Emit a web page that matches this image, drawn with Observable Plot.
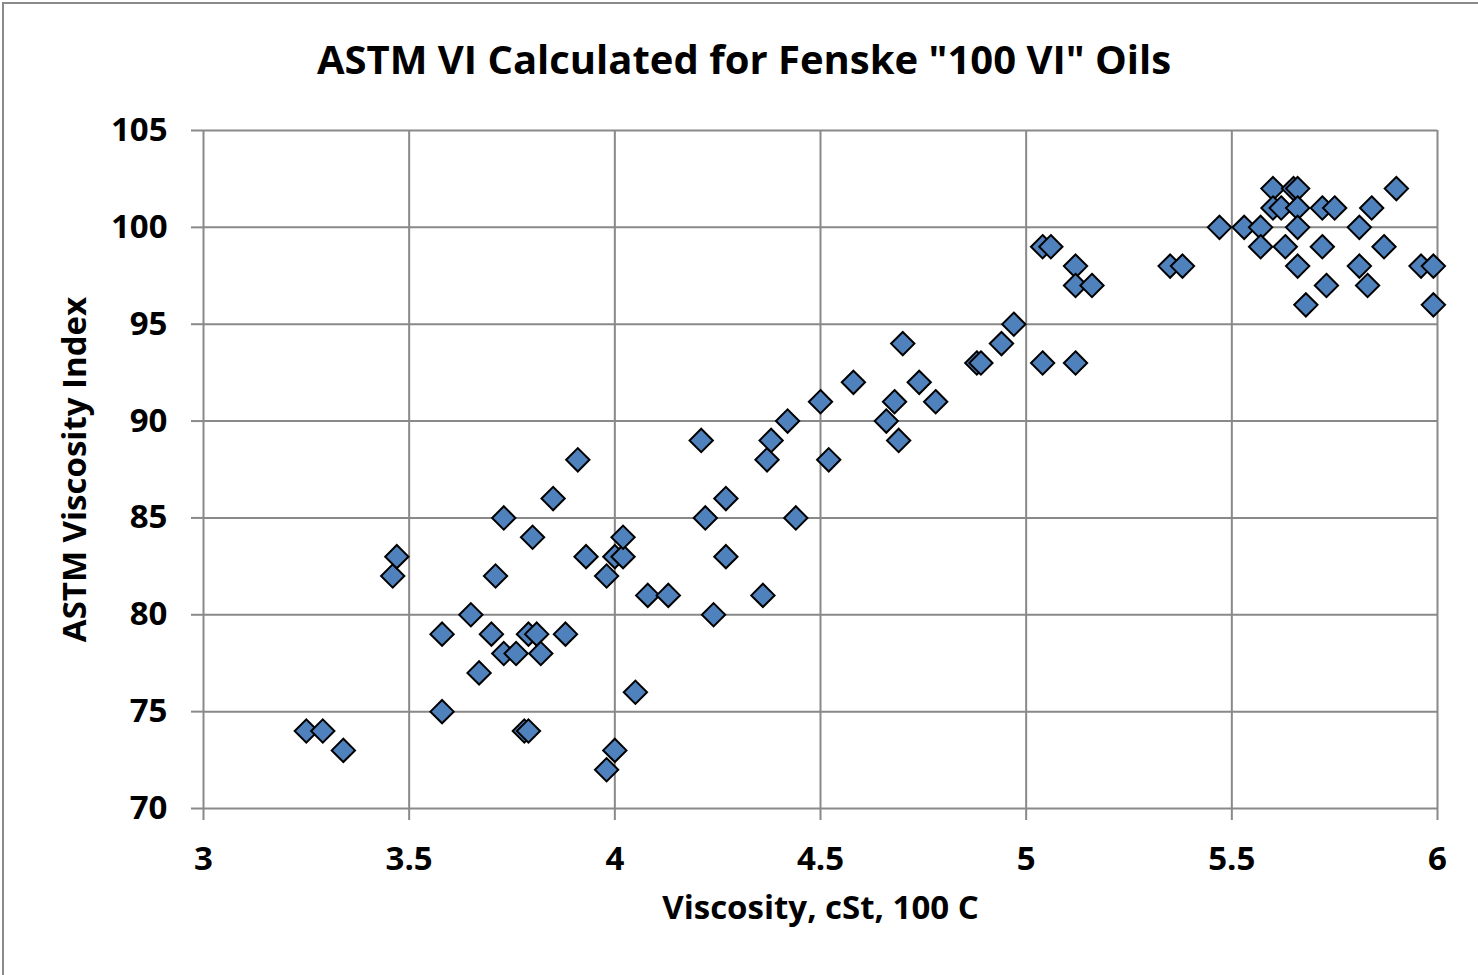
<!DOCTYPE html>
<html>
<head>
<meta charset="utf-8">
<script src="https://cdn.jsdelivr.net/npm/d3@7"></script>
<script src="https://cdn.jsdelivr.net/npm/@observablehq/plot@0.6"></script>
<style>
  html, body { margin: 0; padding: 0; background: #fff; overflow: hidden; }
  #wrap { position: relative; width: 1478px; height: 975px; }
  #border { position: absolute; left: 2px; top: 2px; width: 1490px; height: 990px; border: 2px solid #8a8a8a; pointer-events: none; }
  #title { position: absolute; left: 0; top: 0; width: 1488px; height: 100px; line-height: 118px; text-align: center;
           font-family: "Open Sans", "Liberation Sans", sans-serif; font-weight: bold; font-size: 40px; color: #000; }
  #chart { position: absolute; left: 0; top: 100px; }
</style>
</head>
<body>
<div id="wrap">
  <div id="title">ASTM VI Calculated for Fenske "100 VI" Oils</div>
  <div id="chart"></div>
  <div id="border"></div>
</div>
<script>
const viscosity = [
  3.25, 3.29, 3.34, 3.46, 3.47, 3.58, 3.58, 3.65, 3.67, 3.70,
  3.71, 3.73, 3.73, 3.76, 3.78, 3.79, 3.79, 3.80, 3.81, 3.82,
  3.85, 3.88, 3.91, 3.93, 3.98, 3.98, 4.00, 4.00, 4.02, 4.02,
  4.05, 4.08, 4.13, 4.21, 4.22, 4.24, 4.27, 4.27, 4.36, 4.37,
  4.38, 4.42, 4.44, 4.50, 4.52, 4.58, 4.66, 4.68, 4.69, 4.70,
  4.74, 4.78, 4.88, 4.89, 4.94, 4.97, 5.04, 5.04, 5.06, 5.12,
  5.12, 5.12, 5.16, 5.35, 5.38, 5.47, 5.53, 5.57, 5.57, 5.60,
  5.60, 5.62, 5.63, 5.65, 5.66, 5.66, 5.66, 5.66, 5.68, 5.72,
  5.72, 5.73, 5.75, 5.81, 5.81, 5.83, 5.84, 5.87, 5.90, 5.96,
  5.99, 5.99
];
const astmVI = [
  74, 74, 73, 82, 83, 79, 75, 80, 77, 79,
  82, 85, 78, 78, 74, 74, 79, 84, 79, 78,
  86, 79, 88, 83, 82, 72, 73, 83, 83, 84,
  76, 81, 81, 89, 85, 80, 86, 83, 81, 88,
  89, 90, 85, 91, 88, 92, 90, 91, 89, 94,
  92, 91, 93, 93, 94, 95, 93, 99, 99, 98,
  97, 93, 97, 98, 98, 100, 100, 100, 99, 102,
  101, 101, 99, 102, 102, 101, 100, 98, 96, 101,
  99, 97, 101, 100, 98, 97, 101, 99, 102, 98,
  98, 96
];
const xTicks = [3, 3.5, 4, 4.5, 5, 5.5, 6];
const yTicks = [70, 75, 80, 85, 90, 95, 100, 105];
const xTitle = "Viscosity, cSt, 100 C";
const yTitle = "ASTM Viscosity Index";

const data = viscosity.map((v, i) => ({x: v, y: astmVI[i]}));
const gridColor = "#898989";
const font = "'Open Sans', 'Liberation Sans', sans-serif";

const chart = Plot.plot({
  width: 1478,
  height: 875,
  marginTop: 30,
  marginBottom: 167,
  marginLeft: 203,
  marginRight: 41,
  style: {fontFamily: font, fontWeight: "bold", color: "#000", background: "#fff", overflow: "visible"},
  x: {domain: [3, 6]},
  y: {domain: [70, 105]},
  marks: [
    Plot.gridX(xTicks, {stroke: gridColor, strokeOpacity: 1, strokeWidth: 2}),
    Plot.gridY(yTicks, {stroke: gridColor, strokeOpacity: 1, strokeWidth: 2}),
    Plot.axisX(xTicks, {tickSize: 12, tickPadding: 26, stroke: gridColor, strokeWidth: 2, fill: "#000",
      fontSize: 33, fontWeight: "bold", tickFormat: d => String(d), label: null}),
    Plot.axisY(yTicks, {tickSize: 12, tickPadding: 24, stroke: gridColor, strokeWidth: 2, fill: "#000",
      fontSize: 33, fontWeight: "bold", tickFormat: d => String(d), label: null}),
    Plot.text([xTitle], {frameAnchor: "bottom", dy: 110, fontSize: 33, fontWeight: "bold", fill: "#000"}),
    Plot.text([yTitle], {frameAnchor: "left", dx: -128, rotate: -90, textAnchor: "middle", fontSize: 33, fontWeight: "bold", fill: "#000"}),
    Plot.dot(data, {x: "x", y: "y", symbol: "diamond2", r: 10.5, fill: "#4F81BD", stroke: "#000", strokeWidth: 2, fillOpacity: 1})
  ]
});
document.getElementById("chart").appendChild(chart);
</script>
</body>
</html>
